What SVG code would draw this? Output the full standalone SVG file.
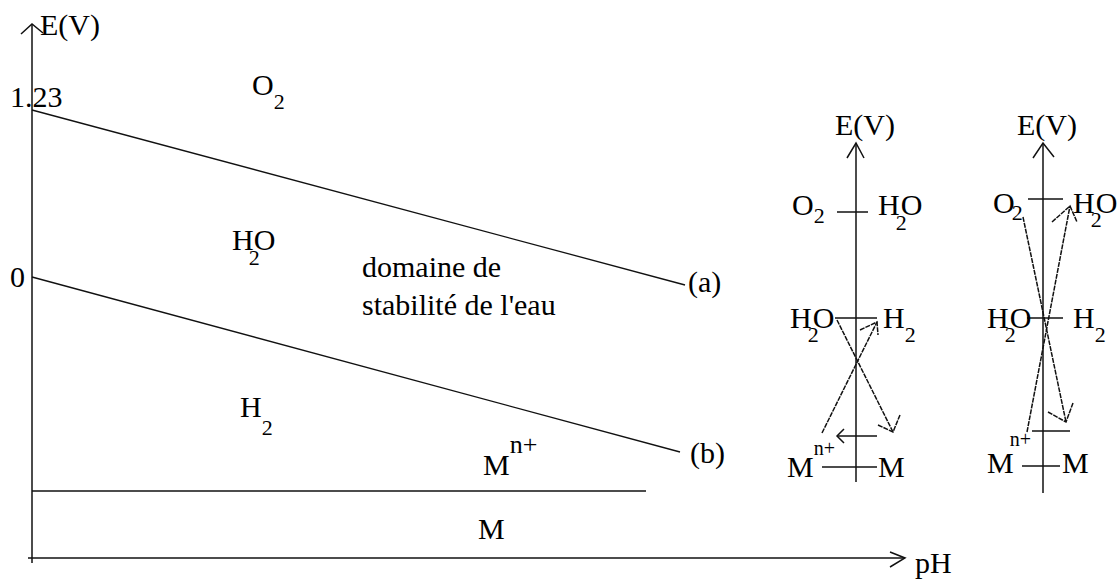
<svg xmlns="http://www.w3.org/2000/svg" width="1120" height="582" viewBox="0 0 1120 582" font-family="'Liberation Serif', 'Times New Roman', 'DejaVu Serif', serif">
<style>
.ax{stroke:#111;stroke-width:1.5;fill:none}
.ln{stroke:#111;stroke-width:1.3;fill:none}
.dl{stroke:#111;stroke-width:1.5;fill:none;stroke-dasharray:5 1}
text{font-family:'Liberation Serif','Times New Roman','DejaVu Serif',serif;fill:#000;font-size:30px}
.s{font-size:22px}
.ss{font-size:20px}
.sup{font-size:26px}
</style>
<rect width="1120" height="582" fill="#fff"/>
<g id="main-axes">
<line class="ax" x1="32" y1="24" x2="32" y2="563"/>
<polyline class="ax" points="21,34 32,24 43,33"/>
<line class="ax" x1="28" y1="558" x2="905" y2="558"/>
<polyline class="ax" points="890,552 905,558 890,567"/>
<text x="40" y="35">E(V)</text>
<text x="10" y="107">1.23</text>
<text x="10" y="287">0</text>
<text x="915" y="573">pH</text>
</g>
<g id="connectors">
<line id="line-a" class="ln" x1="32" y1="110" x2="685" y2="285"/>
<line id="line-b" class="ln" x1="32" y1="277" x2="680" y2="452"/>
<line id="line-M" class="ax" x1="32" y1="491" x2="646" y2="491"/>
</g>
<g id="labels">
<text x="252" y="95">O<tspan class="s" dy="14">2</tspan></text>
<text x="232" y="250">H<tspan class="s" dx="-5" dy="15">2</tspan><tspan dx="-6" dy="-15">O</tspan></text>
<text x="362" y="277">domaine de</text>
<text x="362" y="315">stabilité de l'eau</text>
<text x="688" y="292">(a)</text>
<text x="690" y="463">(b)</text>
<text x="240" y="417">H<tspan class="s" dy="18">2</tspan></text>
<text x="483" y="475">M<tspan class="sup" dy="-22">n+</tspan></text>
<text x="478" y="539">M</text>
</g>
<g id="diagram-2">
<line class="ax" x1="856" y1="143" x2="856" y2="482"/>
<polyline class="ax" points="847,158 856,143 864,158"/>
<text x="835" y="135">E(V)</text>
<line class="ax" x1="837" y1="212" x2="868" y2="212"/>
<text x="792" y="215">O<tspan class="s" dy="8">2</tspan></text>
<text x="878" y="215">H<tspan class="s" dx="-4" dy="15">2</tspan><tspan dx="-6" dy="-15">O</tspan></text>
<line class="ax" x1="835" y1="318" x2="877" y2="318"/>
<text x="790" y="328">H<tspan class="s" dx="-4" dy="14">2</tspan><tspan dx="-6" dy="-14">O</tspan></text>
<text x="883" y="328">H<tspan class="s" dy="14">2</tspan></text>
<line class="dl" x1="837" y1="320" x2="893" y2="432"/>
<polyline class="dl" points="878,425 893,432 900,415"/>
<line class="dl" x1="822" y1="433" x2="877" y2="322"/>
<polyline class="dl" points="860,330 877,322 878,335"/>
<line class="ax" x1="837" y1="436" x2="877" y2="436"/>
<polyline class="ax" points="844,429 837,436 844,443"/>
<text x="787" y="477">M<tspan class="ss" dy="-22">n+</tspan></text>
<line class="ax" x1="822" y1="467" x2="877" y2="467"/>
<text x="878" y="477">M</text>
</g>
<g id="diagram-3">
<line class="ax" x1="1043" y1="143" x2="1043" y2="493"/>
<polyline class="ax" points="1033,158 1043,143 1054,157"/>
<text x="1017" y="135">E(V)</text>
<line class="ax" x1="1028" y1="199" x2="1063" y2="199"/>
<text x="993" y="213">O<tspan class="s" dx="-3" dy="7">2</tspan></text>
<text x="1073" y="213">H<tspan class="s" dx="-4" dy="14">2</tspan><tspan dx="-6" dy="-14">O</tspan></text>
<line class="ax" x1="1027" y1="318" x2="1063" y2="318"/>
<text x="987" y="328">H<tspan class="s" dx="-4" dy="14">2</tspan><tspan dx="-6" dy="-14">O</tspan></text>
<text x="1073" y="328">H<tspan class="s" dy="14">2</tspan></text>
<line class="dl" x1="1023" y1="217" x2="1066" y2="422"/>
<polyline class="dl" points="1048,412 1066,422 1073,403"/>
<line class="dl" x1="1027" y1="432" x2="1070" y2="206"/>
<polyline class="dl" points="1052,222 1070,206 1077,222"/>
<line class="ax" x1="1032" y1="431" x2="1070" y2="431"/>
<text x="987" y="473">M<tspan class="ss" dx="-4" dy="-27">n+</tspan></text>
<line class="ax" x1="1022" y1="466" x2="1060" y2="466"/>
<text x="1062" y="473">M</text>
</g>
</svg>
